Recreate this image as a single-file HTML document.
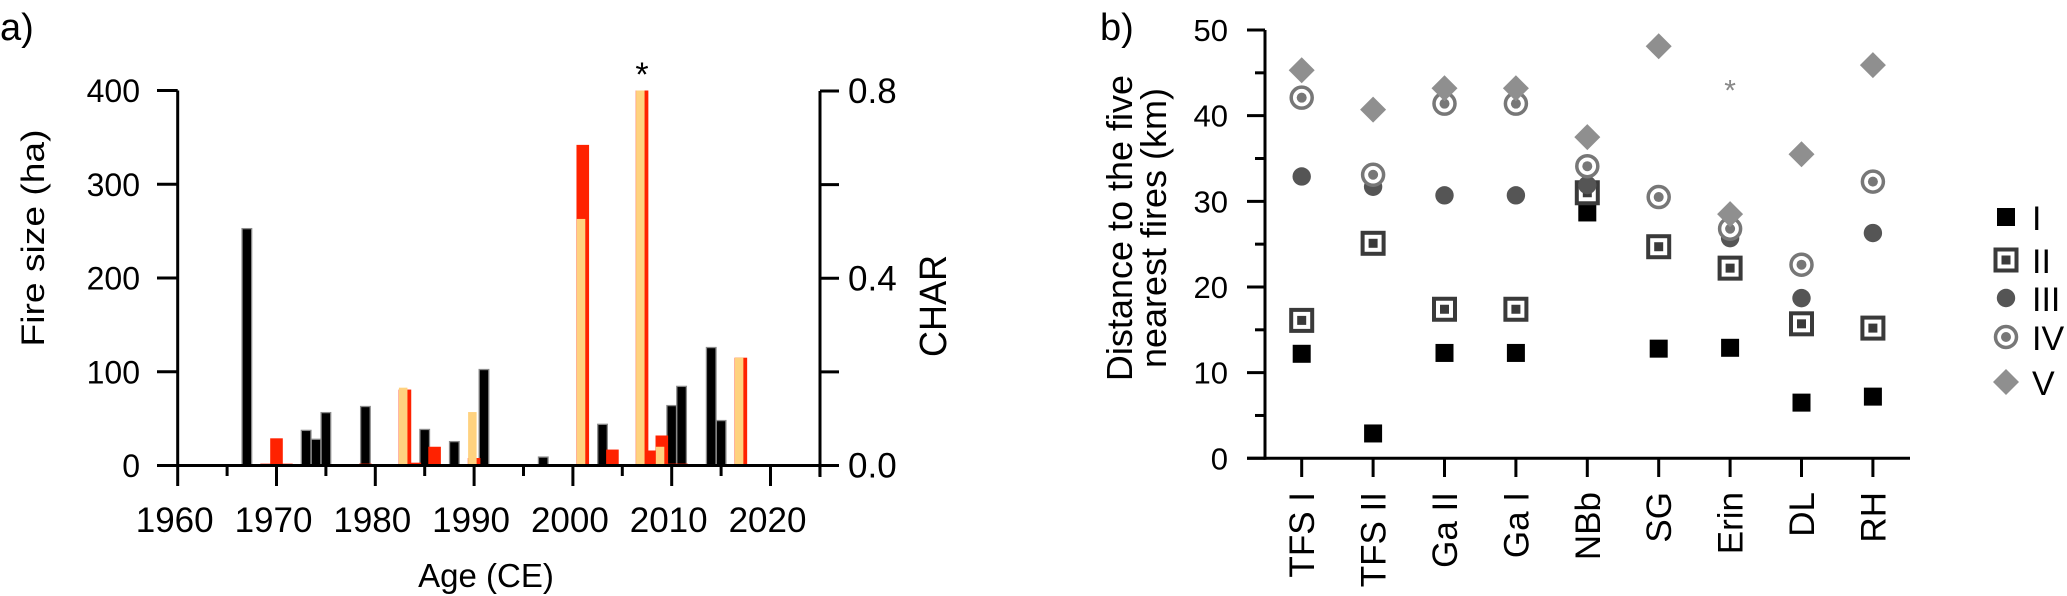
<!DOCTYPE html>
<html><head><meta charset="utf-8"><style>
html,body{margin:0;padding:0;background:#fff;}
svg{display:block;font-family:"Liberation Sans",Arial,sans-serif;}
</style></head><body>
<svg id="fig" width="2067" height="596" viewBox="0 0 2067 596" xmlns="http://www.w3.org/2000/svg">
<g id="pa"></g>
<g id="pb"></g>
</svg>
<script>
// ---------- Panel a data ----------
const xTickYears = [1960,1965,1970,1975,1980,1985,1990,1995,2000,2005,2010,2015,2020,2025];
const xTickLabels = ["1960","1970","1980","1990","2000","2010","2020"];
const leftTicks = [0,100,200,300,400];
const rightTicks = [0.0,0.2,0.4,0.6,0.8];
const rightTickLabels = ["0.0","","0.4","","0.8"];
const charYears = [1967,1973,1974,1975,1979,1985,1988,1991,1997,2003,2010,2011,2014,2015];
const charVals = [0.506,0.075,0.056,0.113,0.126,0.077,0.051,0.205,0.018,0.088,0.128,0.169,0.252,0.096];
const redYears = [1969,1970,1971,1979,1983,1984,1986,1990,2001,2004,2007,2008,2009,2010,2011,2014,2017,2023];
const redVals = [2,29,2,2,81,3,20,8,342,17,400,16,32,2,2,1,115,1];
const yellowYears = [1983,1990,2001,2007,2009,2017];
const yellowVals = [83,57,263,400,20,115];

// ---------- Panel b data ----------
const sites = ["TFS I","TFS II","Ga II","Ga I","NBb","SG","Erin","DL","RH"];
const s1 = [12.2,2.9,12.3,12.3,28.7,12.8,12.9,6.5,7.2];
const s2 = [16.1,25.1,17.4,17.4,31.0,24.7,22.2,15.7,15.2];
const s3 = [32.9,31.7,30.7,30.7,31.9,30.3,25.7,18.7,26.3];
const s4 = [42.1,33.1,41.4,41.4,34.1,30.5,26.8,22.6,32.3];
const s5 = [45.3,40.7,43.2,43.2,37.5,48.1,28.5,35.5,45.9];
const bTicks = [0,10,20,30,40,50];

const NS = "http://www.w3.org/2000/svg";
function mk(parent, tag, attrs, text){
  const e = document.createElementNS(NS, tag);
  for (const k in attrs) e.setAttribute(k, attrs[k]);
  if (text !== undefined) e.textContent = text;
  parent.appendChild(e);
  return e;
}
const pa = document.getElementById('pa');
const pb = document.getElementById('pb');

const X0 = 177.7, PXY = 9.88;
function xa(year){ return X0 + (year - 1960) * PXY; }
const Y0 = 465.5, PXHA = 0.9375;
function yl(ha){ return Y0 - ha * PXHA; }
function yr(c){ return Y0 - c * (374.5 / 0.8); }

let t;
t = mk(pa,'text',{x:0,y:40,'font-size':38}, 'a)');
 

charYears.forEach((yv,i)=>{
  const h = Y0 - yr(charVals[i]);
  const r = mk(pa,'rect',{x:xa(yv)-4.8,y:yr(charVals[i]),width:9.6,height:h,fill:'#000',stroke:'#8a8a8a','stroke-width':1.3});
  
  
});
redYears.forEach((yv,i)=>{
  const h = Y0 - yl(redVals[i]);
  const r = mk(pa,'rect',{x:xa(yv)-6.3,y:yl(redVals[i]),width:12.6,height:h,fill:'#ff2200'});
  
  
});
yellowYears.forEach((yv,i)=>{
  const h = Y0 - yl(yellowVals[i]);
  const r = mk(pa,'rect',{x:xa(yv)-6,y:yl(yellowVals[i]),width:8.5,height:h,fill:'#ffd27f'});
  
  
});

const axA = mk(pa,'g',{stroke:'#000','stroke-width':3,fill:'none'});


mk(axA,'line',{x1:xa(1960),y1:yl(400),x2:xa(1960),y2:Y0+1.5});
mk(axA,'line',{x1:157,y1:Y0,x2:820,y2:Y0});
mk(axA,'line',{x1:820,y1:yr(0.8),x2:820,y2:477});
leftTicks.forEach(v=>{ mk(axA,'line',{x1:157,y1:yl(v),x2:xa(1960),y2:yl(v)}); });
rightTicks.forEach(v=>{ mk(axA,'line',{x1:820,y1:yr(v),x2:839,y2:yr(v)}); });
xTickYears.forEach(yv=>{
  const major = yv % 10 === 0;
  mk(axA,'line',{x1:xa(yv),y1:Y0,x2:xa(yv),y2:major?486:476});
});
leftTicks.forEach(v=>{
  t = mk(pa,'text',{x:140,y:yl(v)+11.5,'font-size':32,'text-anchor':'end'}, String(v));
   
});
rightTicks.forEach((v,i)=>{
  if(!rightTickLabels[i]) return;
  t = mk(pa,'text',{x:848,y:yr(v)+12,'font-size':35}, rightTickLabels[i]);
   
});
xTickLabels.forEach(l=>{
  t = mk(pa,'text',{x:xa(+l)-3,y:532,'font-size':35,'text-anchor':'middle'}, l);
   
});
t = mk(pa,'text',{x:486,y:587,'font-size':33,'text-anchor':'middle'}, 'Age (CE)');
 
t = mk(pa,'text',{x:0,y:0,'font-size':32,'text-anchor':'middle',transform:'translate(44,238) rotate(-90)',textLength:217,lengthAdjust:'spacingAndGlyphs'}, 'Fire size (ha)');
 
t = mk(pa,'text',{x:0,y:0,'font-size':38,'text-anchor':'middle',transform:'translate(946,306) rotate(-90)',textLength:102,lengthAdjust:'spacingAndGlyphs'}, 'CHAR');
 
t = mk(pa,'text',{x:642,y:86,'font-size':34,'text-anchor':'middle'}, '*');
 

// ---------- panel b ----------
const BX0 = 1301.7, BDX = 71.4;
function xb(i){ return BX0 + i * BDX; }
const BY0 = 458.3, BPY = 8.566;
function yb(v){ return BY0 - v * BPY; }

t = mk(pb,'text',{x:1100,y:40,'font-size':38}, 'b)');
 

const axB = mk(pb,'g',{stroke:'#000','stroke-width':3,fill:'none'});


mk(axB,'line',{x1:1265,y1:yb(50),x2:1265,y2:BY0+1.5});
mk(axB,'line',{x1:1247,y1:BY0,x2:1910,y2:BY0});
for(let v=0; v<=50; v+=5){
  mk(axB,'line',{x1:(v%10===0)?1247:1255,y1:yb(v),x2:1265,y2:yb(v)});
}
sites.forEach((s,i)=>{ mk(axB,'line',{x1:xb(i),y1:BY0,x2:xb(i),y2:477}); });
bTicks.forEach(v=>{
  t = mk(pb,'text',{x:1228,y:yb(v)+11,'font-size':31,'text-anchor':'end'}, String(v));
   
});
sites.forEach((s,i)=>{
  t = mk(pb,'text',{x:0,y:0,'font-size':35,'text-anchor':'end',transform:'translate('+(xb(i)+12.5)+',492) rotate(-90)'}, s);
   
});
t = mk(pb,'text',{x:0,y:0,'font-size':36,'text-anchor':'middle',transform:'translate(1132,228) rotate(-90)'}, 'Distance to the five');
 
t = mk(pb,'text',{x:0,y:0,'font-size':36,'text-anchor':'middle',transform:'translate(1166,228) rotate(-90)'}, 'nearest fires (km)');
 
t = mk(pb,'text',{x:xb(6),y:yb(43.4)+14,'font-size':30,'text-anchor':'middle',fill:'#888'}, '*');
 

function marker(g, type, cx, cy){
  if(type===1){ mk(g,'rect',{x:cx-9,y:cy-9,width:18,height:18,fill:'#000'}); }
  else if(type===2){
    mk(g,'rect',{x:cx-10.5,y:cy-10.5,width:21,height:21,fill:'#fff',stroke:'#3a3a3a','stroke-width':4});
    mk(g,'rect',{x:cx-4.5,y:cy-4.5,width:9,height:9,fill:'#3a3a3a'});
  } else if(type===3){ mk(g,'circle',{cx:cx,cy:cy,r:9.2,fill:'#555'}); }
  else if(type===4){
    mk(g,'circle',{cx:cx,cy:cy,r:10.5,fill:'#fff',stroke:'#777','stroke-width':3.5});
    mk(g,'circle',{cx:cx,cy:cy,r:5,fill:'#777'});
  } else { mk(g,'polygon',{points:(cx)+','+(cy-13)+' '+(cx+13)+','+cy+' '+cx+','+(cy+13)+' '+(cx-13)+','+cy,fill:'#8f8f8f'}); }
}
const series = [s1,s2,s3,s4,s5];
const snames = ['I','II','III','IV','V'];
series.forEach((arr,k)=>{
  const g = mk(pb,'g',{});
  
  
  arr.forEach((v,i)=>{ marker(g,k+1,xb(i),yb(v)); });
});
const legY = [217,260,298,337,382];
snames.forEach((n,k)=>{
  const g = mk(pb,'g',{});
  
  
  marker(g,k+1,2006,legY[k]);
  mk(g,'text',{x:2032,y:legY[k]+13,'font-size':34}, n);
});
</script>
</body></html>
